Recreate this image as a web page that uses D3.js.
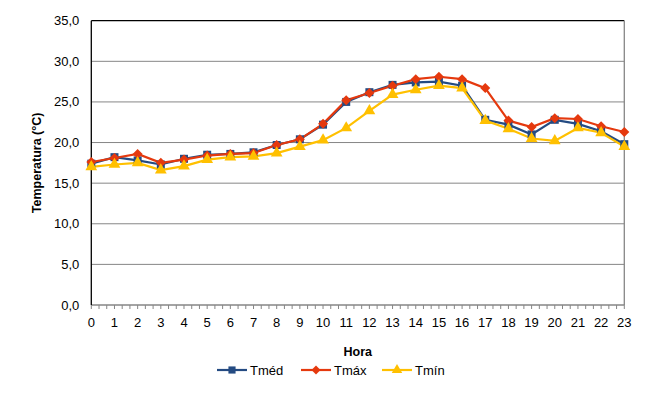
<!DOCTYPE html>
<html>
<head>
<meta charset="utf-8">
<script src="https://cdn.jsdelivr.net/npm/d3@7"></script>
<style>
  body { margin: 0; background: #fff; }
  text { font-family: "Liberation Sans", Arial, sans-serif; }
</style>
</head>
<body>
<script>
const width = 669
const height = 400

// Data (hours 0..23)
const horas = d3.range(0, 24);
const tmed = [17.4, 18.2, 17.8, 17.3, 18.0, 18.5, 18.6, 18.8, 19.7, 20.4, 22.2, 25.0, 26.2, 27.1, 27.4, 27.5, 27.0, 22.8, 22.2, 21.0, 22.8, 22.3, 21.4, 19.8];
const tmax = [17.6, 18.1, 18.6, 17.5, 17.9, 18.4, 18.6, 18.7, 19.7, 20.4, 22.3, 25.2, 26.1, 27.0, 27.8, 28.1, 27.8, 26.7, 22.7, 21.9, 23.0, 22.9, 22.0, 21.3];
const tmin = [17.0, 17.3, 17.5, 16.6, 17.1, 17.9, 18.2, 18.3, 18.7, 19.5, 20.3, 21.8, 23.9, 25.9, 26.5, 27.0, 26.7, 22.7, 21.7, 20.5, 20.2, 21.8, 21.2, 19.5];
const yTicks = [0, 5, 10, 15, 20, 25, 30, 35];

const series = [
    { name: "Tméd", values: tmed, color: "#244B82", symbol: d3.symbolSquare, size: 64, rot: 0 },
    { name: "Tmáx", values: tmax, color: "#E5390E", symbol: d3.symbolSquare, size: 50, rot: 45 },
    { name: "Tmín", values: tmin, color: "#FFC000", symbol: d3.symbolTriangle, size: 60, rot: 0 }
];

const margin = { left: 91.3, right: 44.7, top: 20.7, bottom: 95 };

const svg = d3.select("body").append("svg")
    .attr("width", width)
    .attr("height", height);

const x = d3.scaleLinear()
    .domain([0, 23])
    .range([margin.left, width - margin.right]);

const y = d3.scaleLinear()
    .domain([0, 35])
    .range([height - margin.bottom, margin.top]);

// Gridlines
svg.append("g")
    .selectAll("line")
    .data(yTicks.filter(d => d > 0 && d < 35))
    .enter()
    .append("line")
    .attr("x1", x(0))
    .attr("x2", x(23))
    .attr("y1", d => y(d))
    .attr("y2", d => y(d))
    .attr("stroke", "#868686")
    .attr("stroke-width", 1);

// Plot border: top & left black, right & bottom grey
svg.append("line")
    .attr("x1", x(0)).attr("x2", x(23))
    .attr("y1", y(35)).attr("y2", y(35))
    .attr("stroke", "#000").attr("stroke-width", 1.3);
svg.append("line")
    .attr("x1", x(23)).attr("x2", x(23))
    .attr("y1", y(35)).attr("y2", y(0))
    .attr("stroke", "#868686").attr("stroke-width", 1.3);

// Bottom axis with minor ticks every 1/3 hour
const xAxis = svg.append("g")
    .attr("transform", `translate(0,${y(0)})`);
xAxis.append("line")
    .attr("x1", x(0)).attr("x2", x(23))
    .attr("stroke", "#868686").attr("stroke-width", 1.3);
xAxis.selectAll(".tick")
    .data(d3.range(0, 69 + 1).map(d => d / 3))
    .enter()
    .append("line")
    .attr("x1", d => x(d)).attr("x2", d => x(d))
    .attr("y1", 0).attr("y2", 4)
    .attr("stroke", "#868686");
xAxis.selectAll("text")
    .data(horas)
    .enter()
    .append("text")
    .attr("x", d => x(d))
    .attr("y", 22)
    .attr("text-anchor", "middle")
    .attr("font-size", 13)
    .attr("fill", "#000")
    .text(d => d);

// Left axis
svg.append("line")
    .attr("x1", x(0)).attr("x2", x(0))
    .attr("y1", y(35)).attr("y2", y(0))
    .attr("stroke", "#000").attr("stroke-width", 1.3);
svg.append("g")
    .selectAll("text")
    .data(yTicks)
    .enter()
    .append("text")
    .attr("x", x(0) - 12)
    .attr("y", d => y(d) + 4.5)
    .attr("text-anchor", "end")
    .attr("font-size", 13)
    .text(d => d.toFixed(1).replace(".", ","));

// Axis titles
svg.append("text")
    .attr("transform", `translate(41,${(y(0) + y(35)) / 2}) rotate(-90)`)
    .attr("text-anchor", "middle")
    .attr("font-size", 12.5)
    .attr("font-weight", "bold")
    .text("Temperatura (°C)");

svg.append("text")
    .attr("x", (x(0) + x(23)) / 2)
    .attr("y", 356)
    .attr("text-anchor", "middle")
    .attr("font-size", 12.5)
    .attr("font-weight", "bold")
    .text("Hora");

// Lines and markers
const line = d3.line()
    .x((d, i) => x(horas[i]))
    .y(d => y(d));

series.forEach(s => {
    svg.append("path")
        .datum(s.values)
        .attr("d", line)
        .attr("fill", "none")
        .attr("stroke", s.color)
        .attr("stroke-width", 2.2);
});

series.forEach(s => {
    svg.append("g")
        .selectAll("path")
        .data(s.values)
        .enter()
        .append("path")
        .attr("transform", (d, i) => `translate(${x(horas[i])},${y(d)}) rotate(${s.rot})`)
        .attr("d", d3.symbol().type(s.symbol).size(s.size))
        .attr("fill", s.color);
});

// Legend
const legendX = [217, 301, 382];
const legend = svg.append("g");
series.forEach((s, i) => {
    const g = legend.append("g").attr("transform", `translate(${legendX[i]},370)`);
    g.append("line")
        .attr("x1", 0).attr("x2", 30)
        .attr("stroke", s.color).attr("stroke-width", 2.2);
    g.append("path")
        .attr("transform", `translate(15,0) rotate(${s.rot})`)
        .attr("d", d3.symbol().type(s.symbol).size(s.size * 0.8))
        .attr("fill", s.color);
    g.append("text")
        .attr("x", 33)
        .attr("y", 5)
        .attr("font-size", 13)
        .text(s.name);
});
</script>
</body>
</html>
